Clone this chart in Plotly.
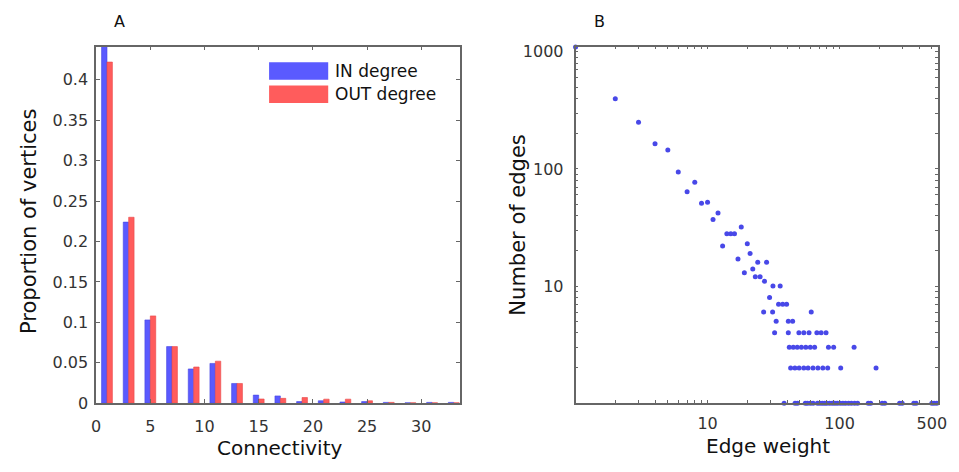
import plotly.graph_objects as go

# ---------------- Panel A data ----------------
bin_centers = [1, 3, 5, 7, 9, 11, 13, 15, 17, 19, 21, 23, 25, 27, 29, 31, 33]
in_degree = [0.445, 0.224, 0.103, 0.070, 0.0424, 0.0492, 0.0244, 0.010, 0.009,
             0.002, 0.003, 0.0015, 0.002, 0.001, 0.0005, 0.001, 0.001]
out_degree = [0.422, 0.230, 0.108, 0.070, 0.0448, 0.052, 0.0244, 0.0052, 0.006,
              0.007, 0.005, 0.005, 0.003, 0.001, 0.0005, 0.0005, 0.0005]
a_xticks = [0, 5, 10, 15, 20, 25, 30]
a_yticks = [0, 0.05, 0.1, 0.15, 0.2, 0.25, 0.3, 0.35, 0.4]
a_yticktext = ["0", "0.05", "0.1", "0.15", "0.2", "0.25", "0.3", "0.35", "0.4"]

# ---------------- Panel B data ----------------
w_top = [1, 2, 3, 4, 5, 6, 7, 8, 9, 10, 11, 12, 13, 14, 15, 16, 17, 18, 19, 20,
         21, 22, 23, 24, 25, 27, 28]
c_top = [1100, 397, 250, 164, 145, 94, 64, 77, 51, 52, 37, 42, 22, 28, 28, 28, 17,
         32, 13, 23, 19, 14, 12, 16, 12, 11, 16]
w_c10 = [31.3, 35.5]
w_c8 = [29.5]
w_c7 = [34.5, 37.1, 39.7]
w_c6 = [26.6, 31.1, 61]
w_c5 = [33.1, 40.9, 44.1]
w_c4 = [32.2, 40.9, 49.2, 53.6, 58.7, 67.3, 72.5, 79]
w_c3 = [41.6, 44.6, 47.8, 51.4, 55.5, 60, 64.7, 82.4, 90.2, 128.8]
w_c2 = [42.6, 45.9, 49.4, 53.6, 57.7, 62.9, 68.5, 74.7, 81.3, 102, 189]
w_c1 = [38, 46, 48, 55, 57, 60, 63, 68, 71, 74, 77, 80, 84, 88, 92, 96, 101, 106,
        111, 117, 123, 130, 137, 165, 172, 210, 220, 285, 298, 365, 380, 500, 520, 545]
b_xticktext = {10: "10", 100: "100", 500: "500"}
b_yticktext = {10: "10", 100: "100", 1000: "1000"}

weights = list(w_top)
counts = list(c_top)
for ws, c in [(w_c10, 10), (w_c8, 8), (w_c7, 7), (w_c6, 6), (w_c5, 5), (w_c4, 4),
              (w_c3, 3), (w_c2, 2), (w_c1, 1)]:
    weights += ws
    counts += [c] * len(ws)

W, H = 959, 472
def px(x):
    return x / W
def py(y):
    return 1 - y / H

BLUE = "#5a5aff"
RED = "#ff5c5c"
DOT = "#4848e8"
AXC = "#666666"
FONT = "DejaVu Sans, Verdana, sans-serif"

fig = go.Figure()
fig.add_trace(go.Bar(x=bin_centers, y=in_degree, name="IN degree", xaxis="x", yaxis="y",
                     marker=dict(color=BLUE, line=dict(color="#4646e0", width=0.6)),
                     showlegend=False))
fig.add_trace(go.Bar(x=bin_centers, y=out_degree, name="OUT degree", xaxis="x", yaxis="y",
                     marker=dict(color=RED, line=dict(color="#e84848", width=0.6)),
                     showlegend=False))
fig.add_trace(go.Scatter(x=weights, y=counts, mode="markers", xaxis="x2", yaxis="y2",
                         marker=dict(color=DOT, size=5, line=dict(width=0)),
                         cliponaxis=False, showlegend=False))

# log tick positions (minor + major)
b_xvals = [v * 10 ** k for k in range(0, 3) for v in range(1, 10) if v * 10 ** k <= 560]
b_yvals = [v * 10 ** k for k in range(0, 4) for v in range(1, 10) if v * 10 ** k <= 1100]

def common(size):
    return dict(showline=True, linecolor=AXC, linewidth=1.6, mirror="allticks",
                ticks="inside", tickcolor=AXC, tickwidth=1, showgrid=False, zeroline=False,
                tickfont=dict(family=FONT, size=size, color="#333333"))

fig.update_layout(
    width=W, height=H, margin=dict(l=0, r=0, t=0, b=0),
    paper_bgcolor="white", plot_bgcolor="white",
    barmode="group", bargap=0.5, bargroupgap=0,
    xaxis=dict(domain=[px(92.5), px(462)], range=[0, 33.6], anchor="y",
               tickvals=a_xticks, ticklen=4, ticklabelstandoff=8, **common(16)),
    yaxis=dict(domain=[py(411.4), py(44)], range=[0, 0.441], anchor="x",
               tickvals=a_yticks, ticktext=a_yticktext, ticklen=4,
               ticklabelstandoff=3, **common(16)),
    xaxis2=dict(domain=[px(579), px(947)], type="log", range=[0, 2.747], anchor="y2",
                tickvals=b_xvals, ticktext=[b_xticktext.get(v, "") for v in b_xvals],
                ticklen=3, ticklabelstandoff=5, **common(16)),
    yaxis2=dict(domain=[py(411.4), py(44)], type="log", range=[0, 3.044], anchor="x2",
                tickvals=b_yvals, ticktext=[b_yticktext.get(v, "") for v in b_yvals],
                ticklen=3, ticklabelstandoff=7, **common(16)),
)

title_font = dict(family=FONT, size=20, color="#111111")
vtitle_font = dict(family=FONT, size=21, color="#111111")
leg_font = dict(family=FONT, size=17, color="#111111")
annotations = [
    dict(text="A", x=px(116), y=py(18), font=dict(family=FONT, size=16, color="#111")),
    dict(text="B", x=px(603), y=py(18), font=dict(family=FONT, size=16, color="#111")),
    dict(text="Connectivity", x=px(279), y=py(458), font=title_font),
    dict(text="Edge weight", x=px(774), y=py(455), font=title_font),
    dict(text="Proportion of vertices", x=px(25), y=py(224), textangle=-90, font=vtitle_font),
    dict(text="Number of edges", x=px(521), y=py(228), textangle=-90, font=vtitle_font),
    dict(text="IN degree", x=px(334), y=py(69), xanchor="left", font=leg_font),
    dict(text="OUT degree", x=px(334), y=py(93), xanchor="left", font=leg_font),
]
for a in annotations:
    a.setdefault("xanchor", "center")
    a.update(xref="paper", yref="paper", yanchor="middle", showarrow=False, borderpad=0)
fig.update_layout(annotations=annotations)

fig.update_layout(shapes=[
    dict(type="rect", xref="paper", yref="paper", x0=px(268), x1=px(328),
         y0=py(78), y1=py(60), fillcolor=BLUE, line=dict(width=0)),
    dict(type="rect", xref="paper", yref="paper", x0=px(268), x1=px(328),
         y0=py(102), y1=py(84), fillcolor=RED, line=dict(width=0)),
])

fig.write_html("out.html", config={"displayModeBar": False},
               post_script="document.body.style.margin='0';document.body.style.overflow='hidden';")
